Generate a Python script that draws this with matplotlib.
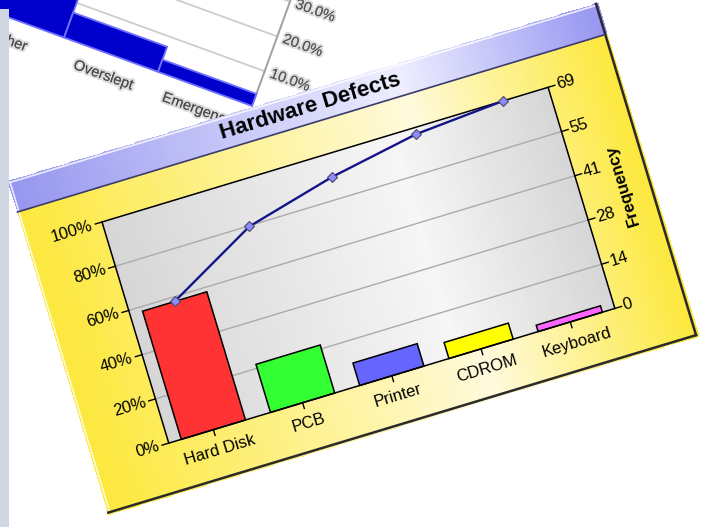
import matplotlib.pyplot as plt
import matplotlib.patheffects as pe
import numpy as np
from matplotlib.transforms import Affine2D
from matplotlib.patches import Rectangle
from matplotlib.colors import LinearSegmentedColormap

plt.rcParams['font.family'] = ['Liberation Sans', 'DejaVu Sans']

# Dados do gráfico principal (Pareto)
categories = ['Hard Disk', 'PCB', 'Printer', 'CDROM', 'Keyboard']
defects = [40, 15, 7, 5, 2]
bar_colors = ['#ff3333', '#33ff33', '#6666ff', '#ffff00', '#ff66ff']
pct_ticks = [0, 20, 40, 60, 80, 100]
pct_labels = ['0%', '20%', '40%', '60%', '80%', '100%']
freq_labels = ['0', '14', '28', '41', '55', '69']

# Dados do gráfico ao fundo (desfocado)
bg_categories = ['Other', 'Overslept', 'Emergency']
bg_values = [14.0, 7.2, 3.5]
bg_ticks = [10, 20, 30]
bg_labels = ['10.0%', '20.0%', '30.0%']

total = sum(defects)
cum_pct = np.cumsum(defects) / total * 100
x = np.arange(len(categories))
xb = np.arange(len(bg_categories))

fig = plt.figure(figsize=(7.11, 5.27), dpi=100)
ax = fig.add_axes([0, 0, 1, 1])
ax.set_axis_off()


def rot_frame(ox, oy, deg):
    a = np.radians(deg)
    c, s = np.cos(a), np.sin(a)
    return Affine2D(np.array([[c, s, ox], [-s, c, oy], [0, 0, 1.0]])) + ax.transData


def fill_gradient(stops, colors, left, top, w, h, T, z, n=160):
    cmap = LinearSegmentedColormap.from_list('g', list(zip(stops, colors)))
    ue = np.linspace(left, left + w, n + 1)
    ve = np.array([top, top + h])
    c = (np.arange(n)[np.newaxis, :] + 0.5) / n
    ax.pcolormesh(ue, ve, c, cmap=cmap, vmin=0, vmax=1, shading='flat',
                  edgecolors='none', antialiased=False, transform=T, zorder=z)


# ---------- gráfico ao fundo (fora de foco) ----------
ANG_B = -20
bg_T = rot_frame(252, 106, ANG_B)
slot, pp = 100, 3.7
bgdata_T = Affine2D().scale(slot, -pp).translate(-2.5 * slot, 0) + bg_T
bgx_T = Affine2D().scale(slot, 1).translate(-2.5 * slot, 0) + bg_T
bgy_T = Affine2D().scale(1, -pp) + bg_T
blur = [pe.withStroke(linewidth=3, foreground=(0.55, 0.55, 0.55, 0.3))]

for g in bg_ticks:
    ax.plot([-3.5, 2.5], [g, g], color='#cdcdcd', lw=1.3, transform=bgdata_T, zorder=1)
ax.plot([2.5, 2.5], [0, 45], color='#a0a0a0', lw=1.4, transform=bgdata_T, zorder=1)
ax.bar(xb, bg_values, width=1.0, color='#0000cc', edgecolor='#7070ff', linewidth=1.3,
       transform=bgdata_T, zorder=2)
for i, lab in enumerate(bg_categories):
    ax.text(i, 22, lab, transform=bgx_T, rotation=ANG_B, rotation_mode='anchor',
            ha='center', va='center', fontsize=10.5, color='#4a4a4a',
            path_effects=blur, zorder=2)
for g, lab in zip(bg_ticks, bg_labels):
    ax.text(27, g, lab, transform=bgy_T, rotation=ANG_B, rotation_mode='anchor',
            ha='center', va='center', fontsize=10.5, color='#555555',
            path_effects=blur, zorder=2)

# ---------- gráfico principal ----------
ANG = 16.8
W, H = 466, 231
u0, u1, v0, v1, vt = -78, 538, -66, 282, -34
chart_T = rot_frame(102, 222, ANG)
freq_T = Affine2D().scale(W / 5, -H / total).translate(W / 10, H) + chart_T
pct_T = Affine2D().scale(W / 5, -H / 100).translate(W / 10, H) + chart_T
yaxis_T = Affine2D().scale(1, -H / 100).translate(0, H) + chart_T
xaxis_T = Affine2D().scale(W / 5, 1).translate(W / 10, 0) + chart_T

# fundos com degradê
fill_gradient([0, 0.66, 1], ['#fce83c', '#fffadc', '#fce83c'],
              u0, vt, u1 - u0, v1 - vt, chart_T, 3)
fill_gradient([0, 0.66, 1], ['#9696f0', '#eeeeff', '#9696f2'],
              u0, v0, u1 - u0, vt - v0, chart_T, 3)
fill_gradient([0, 0.65, 1], ['#d6d6d6', '#f6f6f6', '#d6d6d6'],
              0, 0, W, H, chart_T, 4)

# bordas da moldura
ax.plot([u0 + 1.5, u1 - 2], [v0 + 1.5, v0 + 1.5], color='white', lw=1.2, alpha=0.8,
        transform=chart_T, zorder=5)
ax.plot([u0 + 1.5, u0 + 1.5], [v0 + 1.5, v1 - 2], color='white', lw=1.2, alpha=0.8,
        transform=chart_T, zorder=5)
ax.plot([u1 - 2, u1 - 2], [v0, v1 - 2], color='#2a2a2a', lw=1.8, transform=chart_T, zorder=5)
ax.plot([u0, u1 - 2], [v1 - 2, v1 - 2], color='#2a2a2a', lw=1.8, transform=chart_T, zorder=5)
ax.plot([u0, u1 - 2], [vt, vt], color='#3c3c6a', lw=1.2, transform=chart_T, zorder=5)

# grade
for p in pct_ticks[1:-1]:
    ax.plot([0, W], [p, p], color='#ababab', lw=1, transform=yaxis_T, zorder=5)

# barras
ax.bar(x, defects, width=0.72, color=bar_colors, edgecolor='black', linewidth=1.1,
       transform=freq_T, zorder=6)

# moldura da área do gráfico
ax.add_patch(Rectangle((0, 0), W, H, fill=False, ec='black', lw=1.1,
                       transform=chart_T, zorder=7))

# linha acumulada
ax.plot(x, cum_pct, color='#14148a', lw=1.7, marker='D', ms=5.5, mfc='#8c8cff',
        mec='#4a4a6a', mew=0.8, transform=pct_T, zorder=8)

# marcas e rótulos dos eixos
for p, lab, fl in zip(pct_ticks, pct_labels, freq_labels):
    ax.plot([-7, 0], [p, p], color='black', lw=1, transform=yaxis_T, zorder=7)
    ax.plot([W, W + 7], [p, p], color='black', lw=1, transform=yaxis_T, zorder=7)
    ax.text(-10, p, lab, transform=yaxis_T, rotation=ANG, rotation_mode='anchor',
            ha='right', va='center', fontsize=12, zorder=9)
    ax.text(W + 9, p, fl, transform=yaxis_T, rotation=ANG, rotation_mode='anchor',
            ha='left', va='center', fontsize=12, zorder=9)
for i, lab in enumerate(categories):
    ax.plot([i, i], [H, H + 6], color='black', lw=1, transform=xaxis_T, zorder=7)
    ax.text(i, H + 21, lab, transform=xaxis_T, rotation=ANG, rotation_mode='anchor',
            ha='center', va='center', fontsize=12, zorder=9)

ax.text(509, H / 2, 'Frequency', transform=chart_T, rotation=ANG + 90,
        rotation_mode='anchor', ha='center', va='center', fontsize=12,
        fontweight='bold', zorder=9)
ax.text(W / 2, (v0 + vt) / 2, 'Hardware Defects', transform=chart_T, rotation=ANG,
        rotation_mode='anchor', ha='center', va='center', fontsize=16,
        fontweight='bold', zorder=9)

# faixa lateral à esquerda
ax.add_patch(Rectangle((0, 9), 8.5, 520, fc='#d0d6e2', ec='none', zorder=20))

ax.set_xlim(0, 711)
ax.set_ylim(527, 0)
fig.savefig('out.png', dpi=100)
